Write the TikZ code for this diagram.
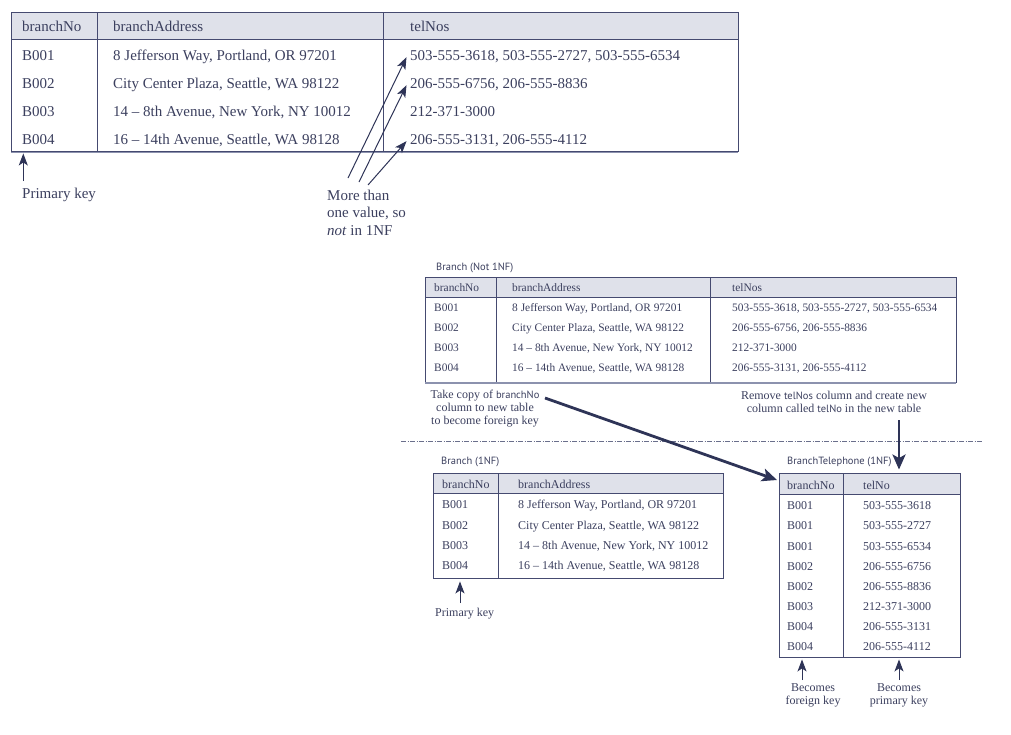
\documentclass[tikz,border=0pt]{standalone}
\usepackage{fontspec}
\setmainfont{Liberation Serif}
\newfontfamily\lblsans{PT Sans}
\usetikzlibrary{arrows.meta}
\definecolor{ink}{HTML}{3B3F5E}
\definecolor{rulec}{HTML}{454A70}
\definecolor{hdr}{HTML}{DFE1EA}
\definecolor{arr}{HTML}{2E3457}
\definecolor{shade}{HTML}{8C92AE}
\definecolor{dashc}{HTML}{6A6F8C}
\newcommand{\sfword}[1]{{\lblsans\fontsize{10.5}{12}\selectfont #1}}
\tikzset{
  tbl/.style={draw=rulec, line width=0.9pt, inner sep=0pt, rectangle},
  grid/.style={draw=rulec, line width=0.9pt},
  shadeline/.style={draw=shade, line width=1.1pt},
  cellL/.style={anchor=base west, inner sep=0pt, text=ink, font=\fontsize{15}{18}\selectfont},
  cellM/.style={anchor=base west, inner sep=0pt, text=ink, font=\fontsize{11.4}{13}\selectfont},
  cellS/.style={anchor=base west, inner sep=0pt, text=ink, font=\fontsize{12}{14}\selectfont},
  ttl/.style={anchor=base west, inner sep=0pt, text=ink, font=\lblsans\fontsize{10.5}{12}\selectfont},
  note/.style={inner sep=0pt, text=ink, font=\fontsize{12}{13.4}\selectfont, align=center, anchor=north},
  noteL/.style={inner sep=0pt, text=ink, font=\fontsize{15}{17.5}\selectfont, align=left, anchor=north west},
  thinarrow/.style={draw=arr, line width=1pt, -{Stealth[length=12pt,width=9pt,inset=3pt]}},
  thickarrow/.style={draw=arr, line width=2.8pt, -{Stealth[length=15pt,width=13pt,inset=3.5pt]}},
  divider/.style={draw=dashc, line width=0.6pt, dash pattern=on 5pt off 1.5pt on 1pt off 1.5pt},
}
\begin{document}
\begin{tikzpicture}[x=1pt,y=-1pt]
\useasboundingbox (0,0) rectangle (1011,734);

% ---------- Top table ----------
\fill[hdr] (11,12) rectangle (738,39);
\node[tbl, minimum width=727pt, minimum height=139pt] (T1) at (374.5,81.5) {};
\draw[grid] (11,39) -- (738,39) (97,12) -- (97,151) (383,12) -- (383,151);
\draw[shadeline] (11,152.2) -- (738,152.2);
\node[cellL] (T1h1) at (22,31.7) {branchNo};
\node[cellL] (T1h2) at (113,31.7) {branchAddress};
\node[cellL] (T1h3) at (410,31.7) {telNos};
\foreach \i/\y/\b/\a/\t in {
  1/60/B001/{8 Jefferson Way, Portland, OR 97201}/{503-555-3618, 503-555-2727, 503-555-6534},
  2/88/B002/{City Center Plaza, Seattle, WA 98122}/{206-555-6756, 206-555-8836},
  3/116/B003/{14 – 8th Avenue, New York, NY 10012}/{212-371-3000},
  4/144/B004/{16 – 14th Avenue, Seattle, WA 98128}/{206-555-3131, 206-555-4112}}{
  \node[cellL] (T1r\i a) at (22,\y) {\b};
  \node[cellL] (T1r\i b) at (113,\y) {\a};
  \node[cellL] (T1r\i c) at (410,\y) {\t};
}
\node[cellL] (pkA) at (22,198) {Primary key};
\coordinate (pkAs) at (23.3,181);
\draw[thinarrow] (pkAs) -- ([yshift=-2pt]pkAs |- T1.south);

\node[noteL] (multi) at (327,189.5) {More than\\one value, so\\\textit{not} in 1NF};
\coordinate (m1) at (348,178);
\coordinate (m2) at (359,182);
\coordinate (m3) at (368,185);
\draw[thinarrow] (m1) -- ([shift={(-3.5pt,-1pt)}]T1r1c.west);
\draw[thinarrow] (m2) -- ([shift={(-3.5pt,-1pt)}]T1r2c.west);
\draw[thinarrow] (m3) -- ([shift={(-3.5pt,-1pt)}]T1r4c.west);

% ---------- Branch (Not 1NF) ----------
\node[ttl] (T2t) at (436,270.4) {Branch (Not 1NF)};
\fill[hdr] (425,277) rectangle (956,297);
\node[tbl, minimum width=531pt, minimum height=105pt] (T2) at (690.5,329.5) {};
\draw[grid] (425,297) -- (956,297) (496,277) -- (496,382) (710,277) -- (710,382);
\draw[shadeline] (425,383) -- (956,383);
\node[cellM] (T2h1) at (434,291.8) {branchNo};
\node[cellM] (T2h2) at (512,291.8) {branchAddress};
\node[cellM] (T2h3) at (732,291.8) {telNos};
\foreach \i/\y/\b/\a/\t in {
  1/311.8/B001/{8 Jefferson Way, Portland, OR 97201}/{503-555-3618, 503-555-2727, 503-555-6534},
  2/331.8/B002/{City Center Plaza, Seattle, WA 98122}/{206-555-6756, 206-555-8836},
  3/351.8/B003/{14 – 8th Avenue, New York, NY 10012}/{212-371-3000},
  4/371.8/B004/{16 – 14th Avenue, Seattle, WA 98128}/{206-555-3131, 206-555-4112}}{
  \node[cellM] (T2r\i a) at (434,\y) {\b};
  \node[cellM] (T2r\i b) at (512,\y) {\a};
  \node[cellM] (T2r\i c) at (732,\y) {\t};
}

\node[note] (copy) at (485,389.5) {Take copy of \sfword{branchNo}\\column to new table\\to become foreign key};
\node[note] (remove) at (834,390.5) {Remove \sfword{telNos} column and create new\\column called \sfword{telNo} in the new table};

\draw[divider] (401,441) -- (983,441);

% ---------- Branch (1NF) ----------
\node[ttl] (T3t) at (441,464.5) {Branch (1NF)};
\fill[hdr] (433,473) rectangle (723,493);
\node[tbl, minimum width=290pt, minimum height=105pt] (T3) at (578,525.5) {};
\draw[grid] (433,493) -- (723,493) (498,473) -- (498,578);
\node[cellS] (T3h1) at (442,488) {branchNo};
\node[cellS] (T3h2) at (518,488) {branchAddress};
\foreach \i/\y/\b/\a in {
  1/508/B001/{8 Jefferson Way, Portland, OR 97201},
  2/529/B002/{City Center Plaza, Seattle, WA 98122},
  3/549/B003/{14 – 8th Avenue, New York, NY 10012},
  4/569/B004/{16 – 14th Avenue, Seattle, WA 98128}}{
  \node[cellS] (T3r\i a) at (442,\y) {\b};
  \node[cellS] (T3r\i b) at (518,\y) {\a};
}
\node[cellS] (pkB) at (435,616) {Primary key};
\coordinate (pkBs) at (460,603);
\draw[thinarrow] (pkBs) -- ([yshift=-3pt]pkBs |- T3.south);

% ---------- BranchTelephone (1NF) ----------
\node[ttl] (T4t) at (787,464.5) {BranchTelephone (1NF)};
\fill[hdr] (779,473) rectangle (960,494);
\node[tbl, minimum width=181pt, minimum height=184pt] (T4) at (869.5,565) {};
\draw[grid] (779,494) -- (960,494) (843,473) -- (843,657);
\node[cellS] (T4h1) at (787,489) {branchNo};
\node[cellS] (T4h2) at (863,489) {telNo};
\foreach \i/\y/\b/\t in {
  1/509/B001/503-555-3618, 2/529/B001/503-555-2727, 3/550/B001/503-555-6534,
  4/570/B002/206-555-6756, 5/590/B002/206-555-8836, 6/610/B003/212-371-3000,
  7/630/B004/206-555-3131, 8/650/B004/206-555-4112}{
  \node[cellS] (T4r\i a) at (787,\y) {\b};
  \node[cellS] (T4r\i b) at (863,\y) {\t};
}
\node[note] (fk) at (813,683.5) {Becomes\\foreign key};
\node[note] (pk) at (899,683.5) {Becomes\\primary key};
\coordinate (fks) at (802,680);
\coordinate (pks) at (899,680);
\draw[thinarrow] (fks) -- ([yshift=-2pt]fks |- T4.south);
\draw[thinarrow] (pks) -- ([yshift=-2pt]pks |- T4.south);

% ---------- thick arrows ----------
\coordinate (cpS) at (545,398);
\coordinate (cpE) at (777,480);
\draw[thickarrow] (cpS) -- (cpE);
\coordinate (rmS) at (899,420);
\draw[thickarrow] (rmS) -- ([yshift=3pt]rmS |- T4.north);
\end{tikzpicture}
\end{document}
